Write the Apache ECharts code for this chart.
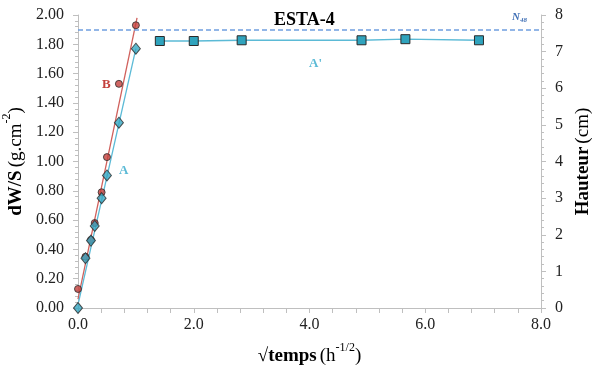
<!DOCTYPE html>
<html><head><meta charset="utf-8">
<script src="https://cdn.jsdelivr.net/npm/echarts@6/dist/echarts.min.js"></script>
<style>html,body{margin:0;padding:0;background:#fff}#c{width:596px;height:372px}</style>
</head><body><div id="c"></div>
<script>
// √temps (h^-1/2)
const sqrtTime = [0, 0.129, 0.224, 0.289, 0.408, 0.5, 0.707, 1.0];
// dW/S series B (red circles)
const seriesB = [0.13, 0.35, 0.465, 0.58, 0.79, 1.03, 1.53, 1.93];
// dW/S series A (blue diamonds)
const seriesA = [0, 0.34, 0.46, 0.56, 0.75, 0.905, 1.265, 1.77];
// Hauteur series A' (squares, right axis)
const sqrtTimeH = [1.414, 2.0, 2.828, 4.899, 5.657, 6.928];
const heightA2 = [7.29, 7.29, 7.31, 7.31, 7.34, 7.31];
// linear fit lines
const fitB = [[0, 0.06], [1.02, 1.98]];
const fitA = [[0.01, 0.04], [1.0, 1.77]];
const n48 = 1.90;

const F = '"Liberation Serif", "Times New Roman", serif';
const axisGray = '#bfbfbf';
const chart = echarts.init(document.getElementById('c'), null, {renderer: 'canvas'});
const zip = (xs, ys) => xs.map((x, i) => [x, ys[i]]);
const titleRich = {
  b: {fontFamily: F, fontSize: 19, fontWeight: 'bold', color: '#000', lineHeight: 24, verticalAlign: 'bottom'},
  n: {fontFamily: F, fontSize: 19, color: '#000', lineHeight: 24, verticalAlign: 'bottom'},
  s: {fontFamily: F, fontSize: 12, color: '#000', lineHeight: 24, verticalAlign: 'top'}
};

chart.setOption({
  animation: false,
  backgroundColor: '#fff',
  title: {
    text: 'ESTA-4', left: 269, top: 6,
    textStyle: {fontFamily: F, fontSize: 18, fontWeight: 'bold', color: '#000'}
  },
  grid: {left: 78, right: 55, top: 15, bottom: 64, containLabel: false, outerBoundsMode: 'none'},
  xAxis: {
    type: 'value', min: 0, max: 8, interval: 2,
    name: '{b|√temps} {n|(h}{s|-1/2}{n|)}', nameLocation: 'middle', nameGap: 34,
    nameTextStyle: {fontFamily: F, color: '#000', rich: titleRich},
    axisLine: {lineStyle: {color: axisGray, width: 1}},
    axisTick: {show: true, length: 5, lineStyle: {color: axisGray}},
    minorTick: {show: true, splitNumber: 5, length: 5, lineStyle: {color: axisGray}},
    splitLine: {show: false},
    axisLabel: {fontFamily: F, fontSize: 16, color: '#222', margin: 9, formatter: v => v.toFixed(1)}
  },
  yAxis: [{
    type: 'value', min: 0, max: 2, interval: 0.2, position: 'left',
    name: '{b|dW/S} {n|(g.cm}{s|-2}{n|)}', nameLocation: 'middle', nameGap: 42, nameRotate: 90,
    nameTextStyle: {fontFamily: F, color: '#000', rich: titleRich},
    axisLine: {show: true, lineStyle: {color: axisGray}},
    axisTick: {show: true, length: 5, lineStyle: {color: axisGray}},
    minorTick: {show: true, splitNumber: 5, length: 3, lineStyle: {color: axisGray}},
    splitLine: {show: false},
    axisLabel: {fontFamily: F, fontSize: 16, color: '#222', margin: 14, formatter: v => v.toFixed(2)}
  }, {
    type: 'value', min: 0, max: 8, interval: 1, position: 'right',
    name: '{b|Hauteur} {n|(cm)}', nameLocation: 'middle', nameGap: 27, nameRotate: 90,
    nameTextStyle: {fontFamily: F, color: '#000', rich: titleRich},
    axisLine: {show: true, lineStyle: {color: axisGray}},
    axisTick: {show: true, length: 5, lineStyle: {color: axisGray}},
    minorTick: {show: true, splitNumber: 5, length: 3, lineStyle: {color: axisGray}},
    splitLine: {show: false},
    axisLabel: {fontFamily: F, fontSize: 16, color: '#222', margin: 14}
  }],
  series: [
    {
      type: 'line', data: fitB, symbol: 'none', silent: true,
      lineStyle: {color: '#d0605c', width: 1.3}, z: 2
    },
    {
      type: 'line', data: fitA, symbol: 'none', silent: true,
      lineStyle: {color: '#5bbad6', width: 1.3}, z: 2,
      markLine: {
        silent: true, symbol: 'none', label: {show: false},
        lineStyle: {color: '#6f9fe0', type: [5, 3], width: 1.5},
        data: [{yAxis: n48}]
      }
    },
    {
      type: 'line', yAxisIndex: 1, data: zip(sqrtTimeH, heightA2),
      symbol: 'rect', symbolSize: 9,
      lineStyle: {color: '#5bbad6', width: 1.3},
      itemStyle: {color: '#2fa3bd', borderColor: '#2a2a2a', borderWidth: 1}, z: 4
    },
    {
      type: 'scatter', data: zip(sqrtTime, seriesB),
      symbol: 'circle', symbolSize: 7,
      itemStyle: {color: '#c4403c', borderColor: '#2a2a2a', borderWidth: 1}, z: 5
    },
    {
      type: 'scatter', data: zip(sqrtTime, seriesA),
      symbol: 'diamond', symbolSize: [9, 11],
      itemStyle: {color: '#35a6c2', borderColor: '#2a2a2a', borderWidth: 1}, z: 6
    }
  ],
  graphic: [
    {type: 'text', left: 102, top: 78, style: {text: 'B', font: 'bold 13px ' + F, fill: '#c4403c'}},
    {type: 'text', left: 119, top: 164, style: {text: 'A', font: 'bold 13px ' + F, fill: '#5bbad6'}},
    {type: 'text', left: 309, top: 57, style: {text: "A'", font: 'bold 13px ' + F, fill: '#5bbad6'}},
    {type: 'text', left: 512, top: 12, style: {
      rich: {
        n: {font: 'italic bold 11px ' + F, fill: '#3f6fb5'},
        s: {font: 'italic bold 7px ' + F, fill: '#3f6fb5', padding: [5, 0, 0, 0]}
      },
      text: '{n|N}{s|48}'
    }}
  ]
});
</script></body></html>
